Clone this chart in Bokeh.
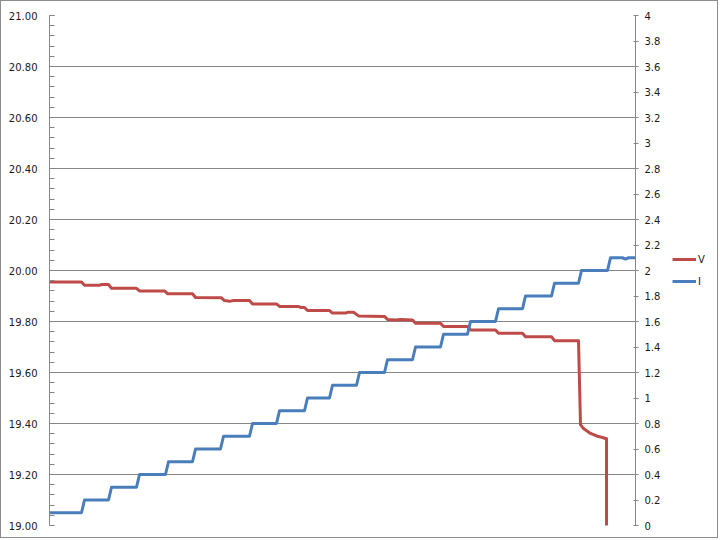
import numpy as np
from bokeh.plotting import figure
from bokeh.layouts import row
from bokeh.models import Range1d, LinearAxis, FixedTicker, Legend, LegendItem
from bokeh.embed import file_html
from bokeh.resources import INLINE

# ---- data (time index) ----
t_I = [0, 32, 35, 59, 62, 87, 90, 116, 119, 143, 146, 171, 174, 200, 203,
       227, 230, 255, 258, 280, 283, 307, 310, 335, 338, 363, 366, 391, 394,
       418, 421, 446, 449, 473, 476, 502, 505, 529, 532, 558, 561, 573, 576,
       579, 586]
I_vals = [0.1, 0.1, 0.2, 0.2, 0.3, 0.3, 0.4, 0.4, 0.5, 0.5, 0.6, 0.6, 0.7,
          0.7, 0.8, 0.8, 0.9, 0.9, 1.0, 1.0, 1.1, 1.1, 1.2, 1.2, 1.3, 1.3,
          1.4, 1.4, 1.5, 1.5, 1.6, 1.6, 1.7, 1.7, 1.8, 1.8, 1.9, 1.9, 2.0,
          2.0, 2.1, 2.1, 2.09, 2.1, 2.1]

t_V = [0, 32, 35, 50, 52, 59, 62, 87, 90, 115, 118, 143, 146, 172, 175, 180,
       184, 200, 203, 227, 230, 249, 251, 255, 258, 280, 283, 296, 298, 304,
       309, 335, 338, 346, 351, 363, 366, 391, 394, 418, 421, 446, 449, 473,
       476, 502, 505, 529, 531, 534, 541, 548, 553, 556, 557, 559]
V_vals = [19.955, 19.955, 19.942, 19.942, 19.945, 19.945, 19.930, 19.930,
          19.920, 19.920, 19.909, 19.909, 19.894, 19.893, 19.882, 19.879,
          19.882, 19.882, 19.869, 19.869, 19.859, 19.859, 19.855, 19.855,
          19.843, 19.843, 19.833, 19.833, 19.836, 19.836, 19.822, 19.820,
          19.808, 19.806, 19.808, 19.806, 19.793, 19.793, 19.780, 19.780,
          19.767, 19.767, 19.754, 19.754, 19.740, 19.740, 19.725, 19.725,
          19.396, 19.380, 19.361, 19.350, 19.345, 19.341, 19.341, 0.0]

left_ticks = [19.0, 19.2, 19.4, 19.6, 19.8, 20.0, 20.2, 20.4, 20.6, 20.8, 21.0]
left_labels = ["19.00", "19.20", "19.40", "19.60", "19.80", "20.00", "20.20",
               "20.40", "20.60", "20.80", "21.00"]
right_ticks = [0, 0.2, 0.4, 0.6, 0.8, 1, 1.2, 1.4, 1.6, 1.8, 2, 2.2, 2.4,
               2.6, 2.8, 3, 3.2, 3.4, 3.6, 3.8, 4]
right_labels = ["0", "0.2", "0.4", "0.6", "0.8", "1", "1.2", "1.4", "1.6",
                "1.8", "2", "2.2", "2.4", "2.6", "2.8", "3", "3.2", "3.4",
                "3.6", "3.8", "4"]
series_names = ["V", "I"]
series_colors = ["#BE4B48", "#4A7EBB"]

FONT = "DejaVu Sans"
GRAY = "#878787"
EDGE = "1px solid #8c8c8c"
TXT = "#1a1a1a"

p = figure(width=664, height=538,
           x_range=Range1d(0, 586), y_range=Range1d(19, 21),
           x_axis_location=None,
           output_backend="svg", toolbar_location=None,
           min_border_left=48, min_border_top=14, min_border_bottom=14,
           min_border_right=30)
p.outline_line_color = None
p.extra_y_ranges = {"I": Range1d(0, 4)}
p.styles = {"border-left": EDGE, "border-top": EDGE, "border-bottom": EDGE}

minor = list(np.round(np.arange(19.0, 21.0001, 0.04), 2))
ly = p.yaxis[0]
ly.ticker = FixedTicker(ticks=left_ticks, minor_ticks=minor)
ly.major_label_overrides = {t: s for t, s in zip(left_ticks, left_labels)}
ly.axis_line_color = GRAY
ly.major_tick_line_color = GRAY
ly.minor_tick_line_color = GRAY
ly.major_tick_in = 5
ly.major_tick_out = 0
ly.minor_tick_in = 5
ly.minor_tick_out = 0
ly.major_label_standoff = 12
ly.major_label_text_font = FONT
ly.major_label_text_font_size = "10px"
ly.major_label_text_color = TXT

p.xgrid.visible = False
p.ygrid.ticker = FixedTicker(ticks=left_ticks)
p.ygrid.grid_line_color = GRAY
p.ygrid.grid_line_width = 1

ry = LinearAxis(y_range_name="I",
                ticker=FixedTicker(ticks=right_ticks, minor_ticks=[]),
                major_label_overrides={t: s for t, s in zip(right_ticks, right_labels)})
ry.axis_line_color = GRAY
ry.major_tick_line_color = GRAY
ry.major_tick_in = 2
ry.major_tick_out = 3
ry.minor_tick_line_color = None
ry.major_label_standoff = 6
ry.major_label_text_font = FONT
ry.major_label_text_font_size = "10px"
ry.major_label_text_color = TXT
p.add_layout(ry, "right")

rV = p.line(t_V, V_vals, line_color=series_colors[0], line_width=3,
            line_join="round")
rI = p.line(t_I, I_vals, y_range_name="I", line_color=series_colors[1],
            line_width=3, line_join="round")

# legend panel (separate small figure to the right of the axis);
# proxy renderers hold the series' style, their data lies outside the view
L = figure(width=54, height=538, x_range=Range1d(0, 1), y_range=Range1d(0, 1),
           x_axis_location=None, y_axis_location=None,
           output_backend="svg", toolbar_location=None,
           min_border_left=0, min_border_right=0, min_border_top=0,
           min_border_bottom=0)
L.outline_line_color = None
L.xgrid.visible = False
L.ygrid.visible = False
L.styles = {"border-right": EDGE, "border-top": EDGE, "border-bottom": EDGE}
proxies = [L.line([t_I[0] - 10, t_I[0] - 9], [I_vals[0] - 10, I_vals[0] - 10],
                  line_color=c, line_width=3) for c in series_colors]

legend = Legend(items=[LegendItem(label=n, renderers=[r])
                       for n, r in zip(series_names, proxies)],
                location=(8, 236), border_line_color=None,
                background_fill_alpha=0, glyph_width=24, glyph_height=16,
                label_height=16, spacing=6, padding=0, margin=0,
                label_standoff=2, label_text_font=FONT,
                label_text_font_size="10px", label_text_color=TXT)
L.add_layout(legend, "center")

layout = row(p, L, spacing=0)

open("out.html", "w").write(file_html(layout, INLINE))
